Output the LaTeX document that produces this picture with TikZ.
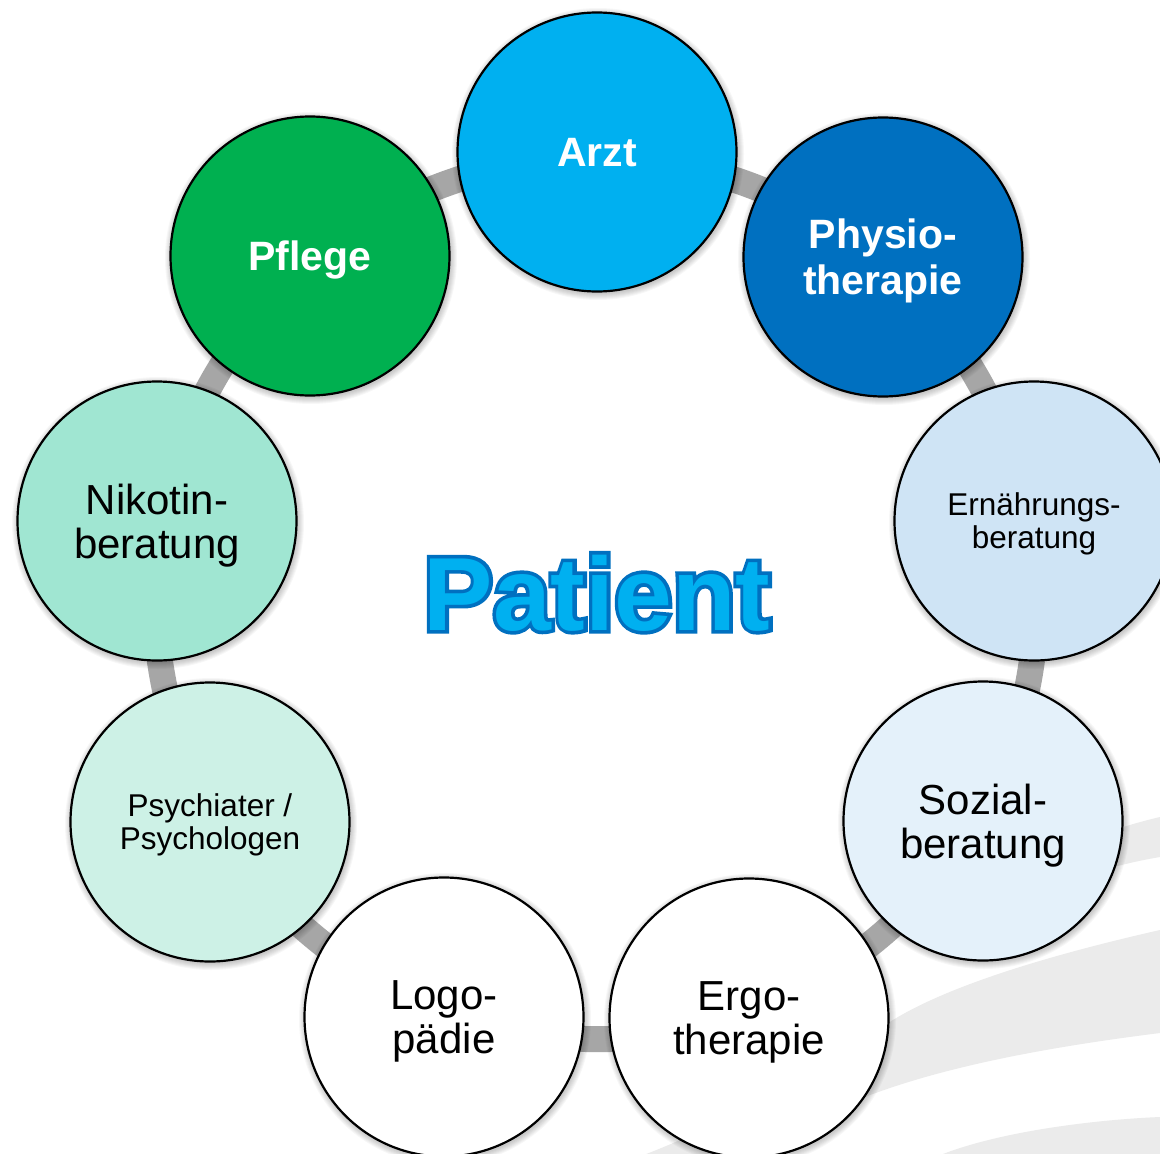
\documentclass[tikz,border=0pt]{standalone}
\usepackage{fontspec}
\setmainfont{Liberation Sans}
% stroked face for the outline of the centre label
\newfontface\patientstroke[FakeBold=7]{Liberation Sans Bold}

\definecolor{arztblue}{HTML}{00B0F0}
\definecolor{physioblue}{HTML}{0070C0}
\definecolor{pflegegreen}{HTML}{00B050}
\definecolor{naehrblue}{HTML}{CFE4F5}
\definecolor{sozialblue}{HTML}{E4F1FA}
\definecolor{psychmint}{HTML}{CDF1E6}
\definecolor{nikomint}{HTML}{A0E6D2}
\definecolor{linkgray}{HTML}{A6A6A6}
\definecolor{swooshgray}{HTML}{EBEBEB}
\definecolor{patientfill}{HTML}{00B0F0}
\definecolor{patientedge}{HTML}{0070C0}

\pgfdeclarelayer{back}
\pgfdeclarelayer{mid}
\pgfsetlayers{back,mid,main}

\begin{document}
\begin{tikzpicture}[x=1pt,y=-1pt,
  member/.style={circle, draw=black, line width=2.2pt, minimum size=279pt,
    inner sep=0pt, align=center, text=black, text depth=0pt,
    font=\fontsize{42}{44}\selectfont},
  lead/.style={member, text=white, font=\fontsize{41}{46}\selectfont\bfseries},
  fineprint/.style={member, font=\fontsize{31.5}{33}\selectfont},
  ringlink/.style={draw=linkgray, line width=26pt, bend left=14},
  swoosh/.style={fill=swooshgray, draw=none},
  headline/.style={anchor=base, inner sep=0pt}]

\useasboundingbox (0,0) rectangle (1160,1154);

% care team around the patient
\node[lead, fill=arztblue]     (arzt)       at (597,152)  {Arzt};
\node[lead, fill=physioblue]   (physio)     at (883,257)  {Physio-\\therapie};
\node[fineprint, fill=naehrblue] (ernaehrung) at (1034,521) {Ernährungs-\\beratung};
\node[member, fill=sozialblue] (sozial)     at (983,821)  {Sozial-\\beratung};
\node[member, fill=white]      (ergo)       at (749,1018) {Ergo-\\therapie};
\node[member, fill=white]      (logo)       at (444,1017) {Logo-\\pädie};
\node[fineprint, fill=psychmint] (psych)    at (210,822)  {Psychiater /\\Psychologen};
\node[member, fill=nikomint]   (nikotin)    at (157,521)  {Nikotin-\\beratung};
\node[lead, fill=pflegegreen]  (pflege)     at (310,256)  {Pflege};

% centre label: stroked copy underneath, plain fill on top
\coordinate (patient-base) at (597,630);
\node[headline, text=patientedge, font=\fontsize{104}{104}\patientstroke]
  (patient-edge) at (patient-base) {Patient};
\node[headline, text=patientfill, font=\fontsize{104}{104}\selectfont\bfseries]
  (patient) at (patient-base) {Patient};

% ring connectors and soft shadows behind the circles
\begin{pgfonlayer}{mid}
  \draw[ringlink] (arzt.center) to (physio.center);
  \draw[ringlink] (physio.center) to (ernaehrung.center);
  \draw[ringlink] (ernaehrung.center) to (sozial.center);
  \draw[ringlink] (sozial.center) to (ergo.center);
  \draw[ringlink] (ergo.center) to (logo.center);
  \draw[ringlink] (logo.center) to (psych.center);
  \draw[ringlink] (psych.center) to (nikotin.center);
  \draw[ringlink] (nikotin.center) to (pflege.center);
  \draw[ringlink] (pflege.center) to (arzt.center);
  \foreach \n in {arzt,physio,ernaehrung,sozial,ergo,logo,psych,nikotin,pflege}
    \foreach \k in {1,...,7}
      \fill[black, opacity=0.03] ([shift={(1,2)}]\n.center) circle (139+\k);
\end{pgfonlayer}

% light backdrop swooshes
\begin{pgfonlayer}{back}
  \fill[white] (0,0) rectangle (1160,1154);
  \fill[swoosh] (1160,817) .. controls (1130,824) and (1100,834) .. (1070,846)
    -- (1070,880) .. controls (1100,870) and (1130,862) .. (1160,857) -- cycle;
  \fill[swoosh] (1160,930) .. controls (1050,955) and (950,985) .. (893,1020)
    .. controls (800,1078) and (720,1128) .. (630,1160)
    -- (760,1160) .. controls (800,1130) and (830,1110) .. (865,1097)
    .. controls (940,1068) and (1040,1048) .. (1160,1033) -- cycle;
  \fill[swoosh] (1160,1117) .. controls (1090,1120) and (1000,1132) .. (943,1154)
    -- (943,1160) -- (1160,1160) -- cycle;
\end{pgfonlayer}
\end{tikzpicture}
\end{document}
